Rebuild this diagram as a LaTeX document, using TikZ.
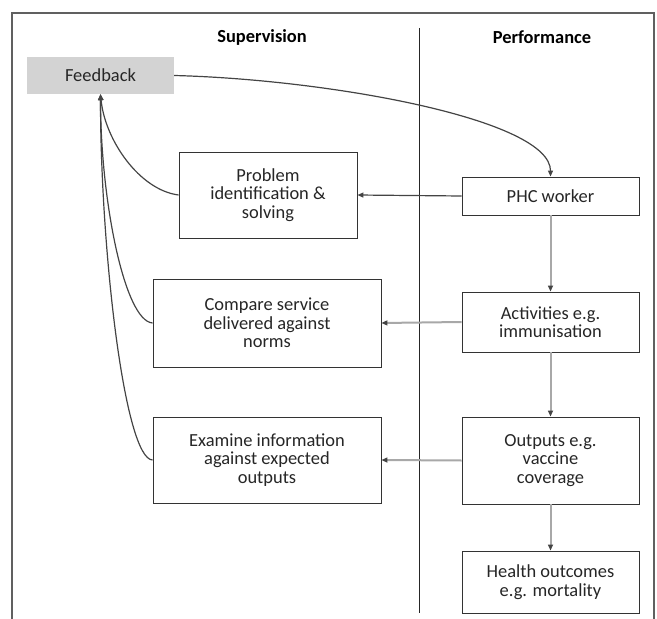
\documentclass[tikz,border=0pt]{standalone}
\usepackage{fontspec}
\setmainfont{Carlito}
\usetikzlibrary{arrows.meta}
\definecolor{frame}{HTML}{606060}
\definecolor{boxline}{HTML}{333333}
\definecolor{darkline}{HTML}{444444}
\definecolor{lightline}{HTML}{A8A8A8}
\definecolor{fbfill}{HTML}{D3D3D3}
\tikzset{
  box/.style={draw=boxline, line width=0.9bp, fill=white, inner sep=0pt, align=center,
    font=\fontsize{18.5}{18.6}\selectfont, text=black!85},
  fbbox/.style={fill=fbfill, inner sep=0pt, align=center, font=\fontsize{18.5}{18.6}\selectfont,
    text=black!85, minimum width=147bp, minimum height=37bp},
  title/.style={font=\fontsize{18.5}{18.6}\selectfont\bfseries, inner sep=0pt},
  tip/.style={-{Triangle[length=6bp,width=5bp,color=darkline]}},
  darkarrow/.style={tip, draw=darkline, line width=1.2bp},
  lightarrow/.style={tip, draw=lightline, line width=2bp},
}
\begin{document}
\begin{tikzpicture}[x=1bp,y=-1bp]
\useasboundingbox (0,0) rectangle (657,619);
% outer frame
\draw[frame, line width=1.3bp] (12,619) -- (12,13) -- (654,13) -- (654,619);
% divider
\coordinate (divtop) at (419,28);
\coordinate (divbot) at (419,613);
\draw[black!85, line width=1bp] (divtop) -- (divbot);
% titles
\node[title] (sup) at (262,37) {Supervision};
\node[title] (perf) at (542,37) {Performance};
% nodes
\node[fbbox] (fb) at (100.5,75.5) {Feedback};
\node[box, minimum width=178bp, minimum height=86bp] (prob) at (268,195) {Problem\\identification \&\\solving};
\node[box, minimum width=177bp, minimum height=38bp] (phc) at (550.5,196) {PHC worker};
\node[box, minimum width=177bp, minimum height=60bp] (act) at (550.5,322) {Activities e.g.\\immunisation};
\node[box, minimum width=228bp, minimum height=88bp] (comp) at (267,323) {Compare service\\delivered against\\norms};
\node[box, minimum width=177bp, minimum height=87bp] (out) at (550.5,460.5) {Outputs e.g.\\vaccine\\coverage};
\node[box, minimum width=228bp, minimum height=86bp] (exam) at (267,460) {Examine information\\against expected\\outputs};
\node[box, minimum width=177bp, minimum height=62bp] (health) at (550.5,582) {Health outcomes\\e.g. mortality};
% connectors
\draw[darkarrow] (fb.east) .. controls +(156,4) and +(0,-57) .. (phc.north);
\draw[darkarrow] (phc.west) -- (prob.east);
\draw[lightarrow] (phc.south) -- (act.north);
\draw[lightarrow] (act.south) -- (out.north);
\draw[lightarrow] (out.south) -- (health.north);
\draw[lightarrow] (act.west) -- (comp.east);
\draw[lightarrow] (out.west) -- (exam.east);
\draw[darkarrow] (prob.west) .. controls +(-39,-5) and +(4.5,46) .. (fb.south);
\draw[darkarrow] (comp.west) .. controls +(-28,-2) and +(0,106) .. (fb.south);
\draw[darkarrow] (exam.west) .. controls +(-28,-1) and +(0,156) .. (fb.south);
\end{tikzpicture}
\end{document}
